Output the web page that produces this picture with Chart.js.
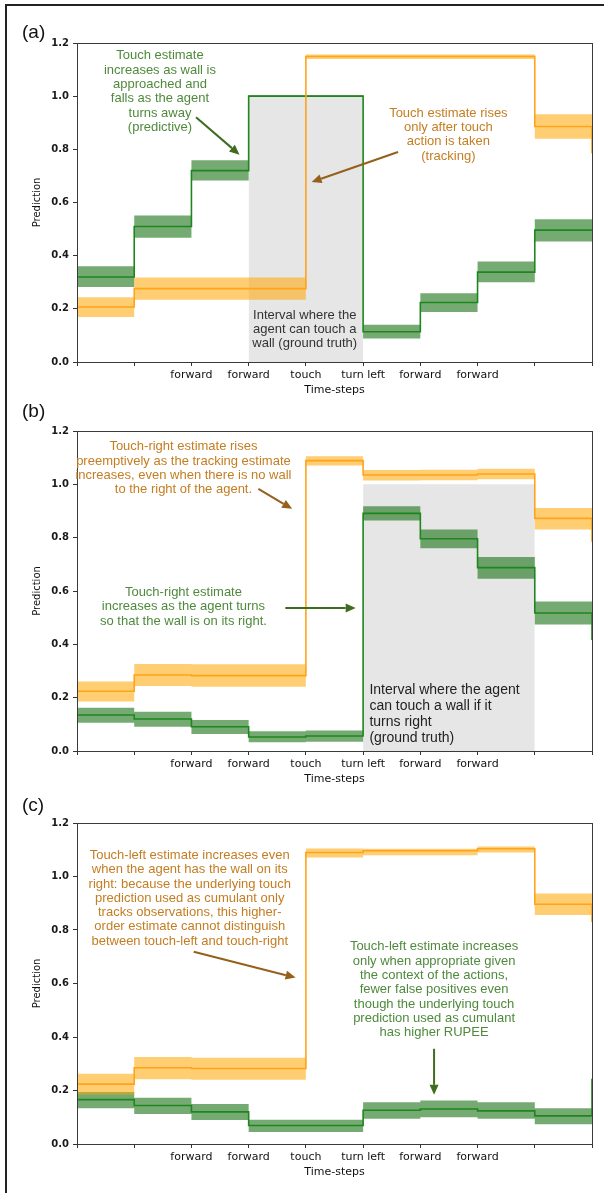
<!DOCTYPE html>
<html>
<head>
<meta charset="utf-8">
<script src="https://cdn.jsdelivr.net/npm/chart.js@4.4.1/dist/chart.umd.min.js"></script>
<style>
  body { margin: 0; background: #fff; width: 604px; height: 1193px; position: relative; overflow: hidden; }
  #frame { position: absolute; left: 5px; top: 4px; width: 597px; height: 1200px; border-left: 2px solid #222; border-top: 2px solid #222; }
  .panel { position: absolute; left: 0; }
</style>
</head>
<body>
<div id="frame"></div>
<div class="panel" style="top:0px"><canvas id="chartA" width="604" height="400"></canvas></div>
<div class="panel" style="top:395px"><canvas id="chartB" width="604" height="394"></canvas></div>
<div class="panel" style="top:795px"><canvas id="chartC" width="604" height="387"></canvas></div>
<script>
// axis labels
const timeTicks = ['', '', 'forward', 'forward', 'touch', 'turn left', 'forward', 'forward', '', ''];
const yTicks = [0, 0.2, 0.4, 0.6, 0.8, 1.0, 1.2];

// (a) touch: line values per time-step (last one = value at right edge)
const aGreen = [0.32, 0.51, 0.72, 1.0, 1.0, 0.114, 0.224, 0.338, 0.496, 0.496];
const aGreenLow = [0.282, 0.467, 0.683, 0.997, 0.997, 0.088, 0.188, 0.300, 0.453];
const aGreenHigh = [0.360, 0.551, 0.759, 1.003, 1.003, 0.140, 0.259, 0.378, 0.537];
const aOrange = [0.207, 0.276, 0.276, 0.276, 1.149, 1.149, 1.149, 1.149, 0.886, 0.785];
const aOrangeLow = [0.169, 0.234, 0.234, 0.234, 1.140, 1.140, 1.140, 1.140, 0.840];
const aOrangeHigh = [0.244, 0.318, 0.318, 0.318, 1.157, 1.157, 1.157, 1.157, 0.932];
const aTruth = [3, 5];

// (b) touch-right
const bGreen = [0.135, 0.120, 0.091, 0.0525, 0.056, 0.891, 0.796, 0.6875, 0.5175, 0.416];
const bGreenLow = [0.106, 0.091, 0.064, 0.0325, 0.035, 0.864, 0.760, 0.646, 0.474];
const bGreenHigh = [0.1625, 0.1475, 0.116, 0.074, 0.077, 0.9175, 0.831, 0.7275, 0.561];
const bOrange = [0.224, 0.285, 0.2825, 0.2825, 1.089, 1.035, 1.035, 1.039, 0.8725, 0.785];
const bOrangeLow = [0.186, 0.244, 0.241, 0.241, 1.071, 1.014, 1.015, 1.019, 0.831];
const bOrangeHigh = [0.261, 0.326, 0.325, 0.325, 1.105, 1.054, 1.055, 1.058, 0.911];
const bTruth = [5, 8];

// (c) touch-left
const cGreen = [0.166, 0.144, 0.120, 0.069, 0.069, 0.126, 0.131, 0.124, 0.105, 0.244];
const cGreenLow = [0.134, 0.1125, 0.090, 0.045, 0.045, 0.094, 0.100, 0.094, 0.074];
const cGreenHigh = [0.194, 0.1725, 0.150, 0.091, 0.091, 0.156, 0.1625, 0.156, 0.134];
const cOrange = [0.224, 0.285, 0.2825, 0.2825, 1.090, 1.096, 1.096, 1.104, 0.896, 0.830];
const cOrangeLow = [0.185, 0.2425, 0.240, 0.240, 1.071, 1.079, 1.079, 1.090, 0.856];
const cOrangeHigh = [0.2625, 0.325, 0.322, 0.322, 1.105, 1.104, 1.104, 1.1125, 0.936];

const GREEN = '#1e861e', ORANGE = '#ffa31a';
const GREEN_BAND = 'rgba(25,115,20,0.6)', ORANGE_BAND = 'rgba(255,165,0,0.55)';
const GREEN_TXT = '#4f8a3c', ORANGE_TXT = '#c47d22', GREEN_ARR = '#3f6c1f', BROWN_ARR = '#94601c';
const STEP = 'before'; // holds each value until the next time-step

function pts(vals) {
  const out = vals.map((v, i) => ({x: i, y: v}));
  if (out.length < 10) out.push({x: 9, y: vals[vals.length - 1]});
  return out;
}

// draws the box, annotations and panel letter
const notesPlugin = {
  id: 'notes',
  afterDatasetsDraw(chart, args, opts) {
    const {ctx, chartArea: ca, scales: {x, y}} = chart;
    ctx.save();
    ctx.strokeStyle = '#3a3a3a';
    ctx.lineWidth = 1;
    ctx.strokeRect(Math.round(ca.left) + 0.5, Math.round(ca.top) + 0.5, Math.round(ca.right - ca.left), Math.round(ca.bottom - ca.top));

    (opts.arrows || []).forEach(a => {
      const x0 = x.getPixelForValue(a.from[0]), y0 = y.getPixelForValue(a.from[1]);
      const x1 = x.getPixelForValue(a.to[0]), y1 = y.getPixelForValue(a.to[1]);
      const ang = Math.atan2(y1 - y0, x1 - x0);
      const hl = 10, hw = 4.5;
      const bx = x1 - hl * Math.cos(ang), by = y1 - hl * Math.sin(ang);
      ctx.strokeStyle = a.color;
      ctx.fillStyle = a.color;
      ctx.lineWidth = 2;
      ctx.beginPath();
      ctx.moveTo(x0, y0);
      ctx.lineTo(bx, by);
      ctx.stroke();
      ctx.beginPath();
      ctx.moveTo(x1, y1);
      ctx.lineTo(bx + hw * Math.sin(ang), by - hw * Math.cos(ang));
      ctx.lineTo(bx - hw * Math.sin(ang), by + hw * Math.cos(ang));
      ctx.closePath();
      ctx.fill();
    });

    (opts.texts || []).forEach(t => {
      ctx.font = (t.size || 13) + 'px "Liberation Sans", Arial, sans-serif';
      ctx.fillStyle = t.color;
      ctx.textAlign = t.align || 'center';
      ctx.textBaseline = 'middle';
      const px = x.getPixelForValue(t.at[0]);
      const py = y.getPixelForValue(t.at[1]);
      t.lines.forEach((ln, i) => ctx.fillText(ln, px, py + i * (t.lh || 14.3)));
    });

    ctx.font = '19px "Liberation Sans", Arial, sans-serif';
    ctx.fillStyle = '#111';
    ctx.textAlign = 'left';
    ctx.textBaseline = 'middle';
    ctx.fillText(opts.tag, 22, opts.tagY);
    ctx.restore();
  }
};

function makePanel(id, p) {
  const datasets = [
    {data: pts(p.orange), borderColor: ORANGE, borderWidth: 1.6, stepped: STEP, pointRadius: 0, fill: false, order: 0},
    {data: pts(p.green), borderColor: GREEN, borderWidth: 1.6, stepped: STEP, pointRadius: 0, fill: false, order: 1},
    {data: pts(p.orangeHigh), borderWidth: 0, stepped: STEP, pointRadius: 0, backgroundColor: ORANGE_BAND, fill: 3, order: 2},
    {data: pts(p.orangeLow), borderWidth: 0, stepped: STEP, pointRadius: 0, fill: false, order: 3},
    {data: pts(p.greenHigh), borderWidth: 0, stepped: STEP, pointRadius: 0, backgroundColor: GREEN_BAND, fill: 5, order: 4},
    {data: pts(p.greenLow), borderWidth: 0, stepped: STEP, pointRadius: 0, fill: false, order: 5}
  ];
  if (p.truth) {
    datasets.push({data: p.truth.map(v => ({x: v, y: 1.0})), borderWidth: 0, pointRadius: 0,
      backgroundColor: '#e6e6e6', fill: 'origin', order: 10});
  }
  return new Chart(document.getElementById(id), {
    type: 'line',
    data: {datasets: datasets},
    plugins: [notesPlugin],
    options: {
      responsive: false,
      animation: false,
      events: [],
      devicePixelRatio: 1,
      layout: {padding: {top: p.padTop, right: 12, left: 0, bottom: 0}},
      plugins: {
        legend: {display: false},
        tooltip: {enabled: false},
        notes: {tag: p.tag, tagY: p.tagY, texts: p.texts, arrows: p.arrows}
      },
      scales: {
        x: {
          type: 'linear', min: 0, max: 9,
          afterBuildTicks: s => { s.ticks = timeTicks.map((t, i) => ({value: i})); },
          afterFit: s => { s.height = 38; },
          ticks: {autoSkip: false, maxRotation: 0, padding: 3, color: '#111',
            font: {family: 'DejaVu Sans', size: 11},
            callback: v => timeTicks[v]},
          grid: {display: true, drawOnChartArea: false, drawTicks: true, tickLength: 4, color: '#333'},
          border: {color: '#3a3a3a'},
          title: {display: true, text: 'Time-steps', color: '#111',
            font: {family: 'DejaVu Sans', size: 11}, padding: {top: 0, bottom: 3}}
        },
        y: {
          min: 0, max: 1.2,
          afterBuildTicks: s => { s.ticks = yTicks.map(v => ({value: v})); },
          afterFit: s => { s.width = 77; },
          ticks: {padding: 4, color: '#1a1a1a', font: {family: 'DejaVu Sans', size: 10, weight: 'bold'},
            callback: v => v.toFixed(1)},
          grid: {display: true, drawOnChartArea: false, drawTicks: true, tickLength: 4, color: '#333'},
          border: {color: '#3a3a3a'},
          title: {display: true, text: 'Prediction', color: '#111',
            font: {family: 'DejaVu Sans', size: 10}, padding: {top: 31, bottom: 0}}
        }
      }
    }
  });
}

makePanel('chartA', {
  tag: '(a)', tagY: 33, padTop: 43,
  green: aGreen, greenLow: aGreenLow, greenHigh: aGreenHigh,
  orange: aOrange, orangeLow: aOrangeLow, orangeHigh: aOrangeHigh, truth: aTruth,
  texts: [
    {lines: ['Touch estimate', 'increases as wall is', 'approached and', 'falls as the agent', 'turns away', '(predictive)'],
      at: [1.45, 1.152], color: GREEN_TXT},
    {lines: ['Touch estimate rises', 'only after touch', 'action is taken', '(tracking)'],
      at: [6.49, 0.936], color: ORANGE_TXT},
    {lines: ['Interval where the', 'agent can touch a', 'wall (ground truth)'],
      at: [3.98, 0.1765], color: '#333'}
  ],
  arrows: [
    {from: [2.08, 0.921], to: [2.84, 0.78], color: GREEN_ARR},
    {from: [5.61, 0.79], to: [4.10, 0.677], color: BROWN_ARR}
  ]
});

makePanel('chartB', {
  tag: '(b)', tagY: 17, padTop: 36,
  green: bGreen, greenLow: bGreenLow, greenHigh: bGreenHigh,
  orange: bOrange, orangeLow: bOrangeLow, orangeHigh: bOrangeHigh, truth: bTruth,
  texts: [
    {lines: ['Touch-right estimate rises', 'preemptively as the tracking estimate', 'increases, even when there is no wall', 'to the right of the agent.'],
      at: [1.86, 1.141], color: ORANGE_TXT},
    {lines: ['Touch-right estimate', 'increases as the agent turns', 'so that the wall is on its right.'],
      at: [1.86, 0.595], color: GREEN_TXT},
    {lines: ['Interval where the agent', 'can touch a wall if it', 'turns right', '(ground truth)'],
      at: [5.11, 0.229], color: '#222', align: 'left', size: 14, lh: 16.1}
  ],
  arrows: [
    {from: [3.17, 0.983], to: [3.76, 0.908], color: BROWN_ARR},
    {from: [3.64, 0.536], to: [4.87, 0.536], color: GREEN_ARR}
  ]
});

makePanel('chartC', {
  tag: '(c)', tagY: 11, padTop: 28,
  green: cGreen, greenLow: cGreenLow, greenHigh: cGreenHigh,
  orange: cOrange, orangeLow: cOrangeLow, orangeHigh: cOrangeHigh,
  texts: [
    {lines: ['Touch-left estimate increases even', 'when the agent has the wall on its', 'right: because the underlying touch',
      'prediction used as cumulant only', 'tracks observations, this higher-', 'order estimate cannot distinguish', 'between touch-left and touch-right'],
      at: [1.97, 1.079], color: ORANGE_TXT},
    {lines: ['Touch-left estimate increases', 'only when appropriate given', 'the context of the actions,', 'fewer false positives even',
      'though the underlying touch', 'prediction used as cumulant', 'has higher RUPEE'],
      at: [6.24, 0.737], color: GREEN_TXT}
  ],
  arrows: [
    {from: [2.04, 0.7185], to: [3.82, 0.622], color: BROWN_ARR},
    {from: [6.24, 0.356], to: [6.24, 0.184], color: GREEN_ARR}
  ]
});
</script>
</body>
</html>
